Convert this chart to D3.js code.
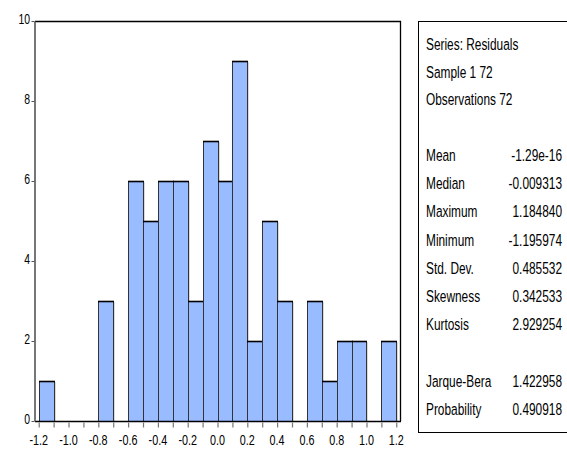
<!DOCTYPE html>
<html>
<head>
<meta charset="utf-8">
<script src="https://cdn.jsdelivr.net/npm/d3@7"></script>
<style>
  html, body { margin: 0; padding: 0; background: #fff; }
  svg text { font-family: "Liberation Sans", Arial, sans-serif; fill: #000; }
</style>
</head>
<body>
<svg id="chart" width="567" height="452"></svg>
<script>
// Histogram bins of the residuals (lower edge of each 0.1-wide bin) and their counts
const binStarts = [-1.2, -1.1, -1.0, -0.9, -0.8, -0.7, -0.6, -0.5, -0.4, -0.3, -0.2, -0.1,
                    0.0,  0.1,  0.2,  0.3,  0.4,  0.5,  0.6,  0.7,  0.8,  0.9,  1.0,  1.1];
const counts    = [1, 0, 0, 0, 3, 0, 6, 5, 6, 6, 3, 7,
                   6, 9, 2, 5, 3, 0, 3, 1, 2, 2, 0, 2];
const binWidth = 0.1;

const xTickValues = [-1.2, -1.0, -0.8, -0.6, -0.4, -0.2, 0.0, 0.2, 0.4, 0.6, 0.8, 1.0, 1.2];
const yTickValues = [0, 2, 4, 6, 8, 10];

// Summary statistics panel
const headerLines = ["Series: Residuals", "Sample 1 72", "Observations 72"];
const statNames   = ["Mean", "Median", "Maximum", "Minimum", "Std. Dev.", "Skewness", "Kurtosis"];
const statValues  = ["-1.29e-16", "-0.009313", "1.184840", "-1.195974", "0.485532", "0.342533", "2.929254"];
const testNames   = ["Jarque-Bera", "Probability"];
const testValues  = ["1.422958", "0.490918"];

const svg = d3.select("#chart");
const plot = { left: 35, right: 400, top: 21, bottom: 421 };
const narrow = 0.72;   // horizontal squeeze for a condensed look

// Draw condensed text anchored at (x, y)
function narrowText(parent, x, y, str, size, anchor) {
  return parent.append("text")
    .attr("transform", `translate(${x},${y}) scale(${narrow},1)`)
    .attr("font-size", size)
    .attr("text-anchor", anchor || "start")
    .text(str);
}

const x = d3.scaleLinear().domain([-1.225, 1.225]).range([plot.left, plot.right]);
const y = d3.scaleLinear().domain([0, 10]).range([plot.bottom, plot.top]);

// Bars
const bars = svg.append("g");
binStarts.forEach((b, i) => {
  if (counts[i] === 0) return;
  const x0 = Math.round(x(b)), x1 = Math.round(x(b + binWidth));
  const yt = Math.round(y(counts[i]));
  // soft grey edge on the right of each bar
  bars.append("rect")
    .attr("x", x1).attr("y", yt + 1)
    .attr("width", 1.5).attr("height", plot.bottom - yt - 1)
    .attr("fill", "#b5b5b5");
  bars.append("rect")
    .attr("x", x0 + 0.5).attr("y", yt + 0.5)
    .attr("width", x1 - x0).attr("height", plot.bottom - yt)
    .attr("fill", "#99bbff")
    .attr("stroke", "#333")
    .attr("stroke-width", 1);
  bars.append("line")
    .attr("x1", x0).attr("x2", x1 + 1)
    .attr("y1", yt + 0.5).attr("y2", yt + 0.5)
    .attr("stroke", "#000").attr("stroke-width", 1.6);
});

// Frame: top and right in black, left in dark grey
svg.append("line").attr("x1", plot.left).attr("x2", plot.right + 1)
  .attr("y1", plot.top + 0.5).attr("y2", plot.top + 0.5)
  .attr("stroke", "#000").attr("stroke-width", 1.3);
svg.append("line").attr("x1", plot.right + 0.5).attr("x2", plot.right + 0.5)
  .attr("y1", plot.top).attr("y2", plot.bottom)
  .attr("stroke", "#000").attr("stroke-width", 1.3);

// X axis with minor ticks at every bin edge, labels every 0.2
const xAxis = d3.axisBottom(x)
  .tickValues(binStarts.concat([1.2]))
  .tickSize(5)
  .tickSizeOuter(0)
  .tickFormat("");
const gx = svg.append("g").attr("transform", `translate(0,${plot.bottom + 0.5})`).call(xAxis);
gx.select(".domain").attr("stroke", "#000").attr("stroke-width", 1.6)
  .attr("d", `M${plot.left},0H${plot.right + 1}`);
gx.selectAll(".tick line").attr("stroke", "#777").attr("stroke-width", 1.2).attr("y1", 1).attr("y2", 6);
xTickValues.forEach(t => {
  narrowText(svg, x(t), 445, d3.format(".1f")(t).replace("−", "-"), 15, "middle");
});

// Y axis
const yAxis = d3.axisLeft(y).tickValues(yTickValues).tickSize(3).tickSizeOuter(0).tickFormat("");
const gy = svg.append("g").attr("transform", `translate(${plot.left - 0.5},0)`).call(yAxis);
gy.select(".domain").attr("stroke", "#555").attr("stroke-width", 1.6);
gy.selectAll(".tick line").attr("stroke", "#555");
yTickValues.forEach(t => {
  narrowText(svg, 30, y(t) + 3, String(t), 14.5, "end");
});

// Statistics panel
const box = svg.append("g");
box.append("rect").attr("x", 418.5).attr("y", 21.5).attr("width", 160).attr("height", 411)
  .attr("fill", "none").attr("stroke", "#000").attr("stroke-width", 1);

const fs = 16.5;
headerLines.forEach((t, i) => {
  narrowText(box, 426, 50 + i * 27.5, t, fs);
});
statNames.forEach((t, i) => {
  const yy = 161 + i * 28.2;
  narrowText(box, 426, yy, t, fs);
  narrowText(box, 562, yy, statValues[i], fs, "end");
});
testNames.forEach((t, i) => {
  const yy = 387 + i * 28;
  narrowText(box, 426, yy, t, fs);
  narrowText(box, 562, yy, testValues[i], fs, "end");
});
</script>
</body>
</html>
